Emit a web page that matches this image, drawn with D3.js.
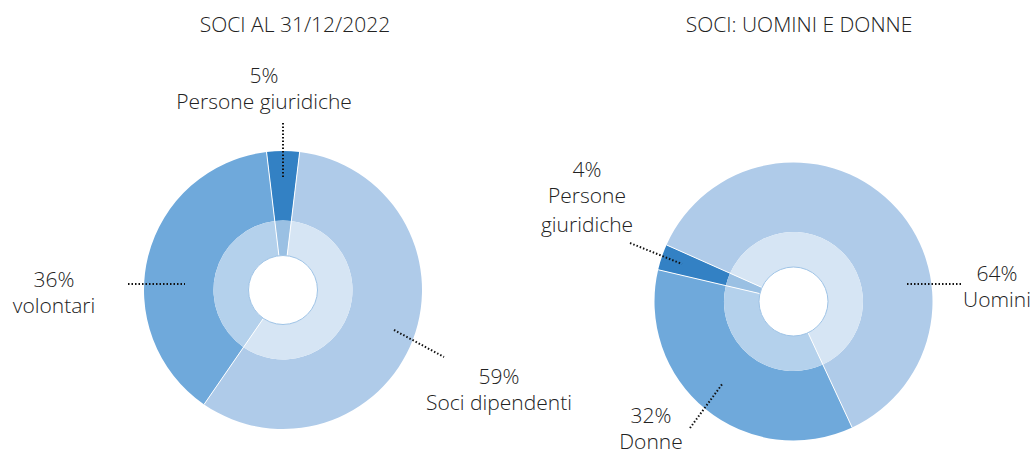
<!DOCTYPE html>
<html>
<head>
<meta charset="utf-8">
<script src="https://cdn.jsdelivr.net/npm/d3@7"></script>
<style>
  body { margin: 0; background: #fff; }
  text { font-family: "Open Sans", sans-serif; font-weight: 300; fill: #222; }
</style>
</head>
<body>
<div id="graphic"></div>
<script>
// left chart: soci al 31/12/2022
var leftCategories = ["Persone giuridiche", "Soci dipendenti", "volontari"]
var leftValues = [3.8, 57.7, 38.5]
var leftLabels = ["5%", "59%", "36%"]

// right chart: uomini e donne
var rightCategories = ["Uomini", "Donne", "Persone giuridiche"]
var rightValues = [61.4, 35.6, 3.0]
var rightLabels = ["64%", "32%", "4%"]

var titles = ["SOCI AL 31/12/2022", "SOCI: UOMINI E DONNE"]

;(function () {
  var width = 1034,
      height = 454

  var svg = d3.select("#graphic").append("svg")
      .attr("width", width)
      .attr("height", height)

  var rad = Math.PI / 180
  var fontSize = 21

  var holeR = 34.5, midR = 69.5, outerR = 139

  var outerArc = d3.arc().innerRadius(midR).outerRadius(outerR)
  var innerArc = d3.arc().innerRadius(holeR).outerRadius(midR)

  // outer ring colours, and the paler version for the inner ring
  var outerColor = { dark: "#3381c4", mid: "#6fa9db", light: "#afcbe9" }
  var innerColor = { dark: "#9ac0e3", mid: "#b4d1ec", light: "#d6e5f4" }

  var charts = [
    {
      cx: 283, cy: 290, titleX: 295, start: -6.8,
      categories: leftCategories, values: leftValues, labels: leftLabels,
      tone: ["dark", "light", "mid"],
      layout: [
        { line: [[0, -167], [0, -112]], x: -19, y: -207, names: ["Persone giuridiche"] },
        { line: [[111, 40], [161, 67]], x: 216, y: 94, names: ["Soci dipendenti"] },
        { line: [[-155, -6], [-98, -6]], x: -229, y: -3, names: ["volontari"] }
      ]
    },
    {
      cx: 793.5, cy: 301.5, titleX: 799, start: -66,
      categories: rightCategories, values: rightValues, labels: rightLabels,
      tone: ["light", "mid", "dark"],
      layout: [
        { line: [[113.5, -17.5], [169.5, -17.5]], x: 203.5, y: -20.5, names: ["Uomini"] },
        { line: [[-103.5, 126.5], [-70.5, 81.5]], x: -142.5, y: 121.5, names: ["Donne"] },
        { line: [[-163.5, -58.5], [-111.5, -37.5]], x: -206.5, y: -124.5, names: ["Persone", "giuridiche"] }
      ]
    }
  ]

  charts.forEach(function (c, ci) {
    svg.append("text")
      .attr("x", c.titleX)
      .attr("y", 32)
      .attr("text-anchor", "middle")
      .attr("font-size", fontSize)
      .text(titles[ci])

    var pie = d3.pie()
      .sort(null)
      .value(function (d) { return d })
      .startAngle(c.start * rad)
      .endAngle((c.start + 360) * rad)

    var arcs = pie(c.values)

    var g = svg.append("g")
      .attr("transform", "translate(" + c.cx + "," + c.cy + ")")

    g.selectAll(".outer")
      .data(arcs)
      .enter().append("path")
      .attr("class", "outer")
      .attr("d", outerArc)
      .attr("fill", function (d, i) { return outerColor[c.tone[i]] })

    g.selectAll(".inner")
      .data(arcs)
      .enter().append("path")
      .attr("class", "inner")
      .attr("d", innerArc)
      .attr("fill", function (d, i) { return innerColor[c.tone[i]] })

    // thin white separators between slices, through both rings
    g.selectAll(".sep")
      .data(arcs)
      .enter().append("line")
      .attr("class", "sep")
      .attr("x1", function (d) { return holeR * Math.sin(d.startAngle) })
      .attr("y1", function (d) { return -holeR * Math.cos(d.startAngle) })
      .attr("x2", function (d) { return outerR * Math.sin(d.startAngle) })
      .attr("y2", function (d) { return -outerR * Math.cos(d.startAngle) })
      .attr("stroke", "#fff")
      .attr("stroke-width", 1)

    g.append("circle")
      .attr("r", holeR)
      .attr("fill", "#fff")
      .attr("stroke", "#9ec3e6")
      .attr("stroke-width", 1)

    // leader lines + labels
    c.layout.forEach(function (l, i) {
      g.append("line")
        .attr("x1", l.line[0][0])
        .attr("y1", l.line[0][1])
        .attr("x2", l.line[1][0])
        .attr("y2", l.line[1][1])
        .attr("stroke", "#111")
        .attr("stroke-width", 2)
        .attr("stroke-dasharray", "1.5,2")

      var lines = [c.labels[i]].concat(l.names)
      g.selectAll(".lab" + i)
        .data(lines)
        .enter().append("text")
        .attr("x", l.x)
        .attr("y", function (d, k) { return l.y + k * (k === 0 ? 29 : 26) + (k > 1 ? 3 : 0) })
        .attr("text-anchor", "middle")
        .attr("font-size", fontSize)
        .text(function (d) { return d })
    })
  })
})()
</script>
</body>
</html>
